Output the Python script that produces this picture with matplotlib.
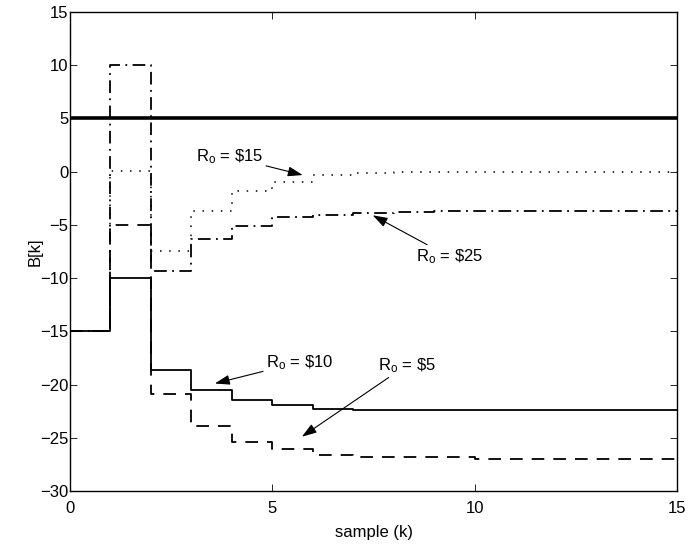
import numpy as np
import matplotlib.pyplot as plt

plt.rcParams['font.family'] = ['Liberation Sans', 'DejaVu Sans']
plt.rcParams['mathtext.fontset'] = 'custom'
plt.rcParams['mathtext.rm'] = 'Liberation Sans'
plt.rcParams['mathtext.it'] = 'Liberation Sans'

# samples k = 0..15
k = np.arange(16)
b_r10 = [-15, -10, -18.65, -20.5, -21.45, -21.95, -22.25, -22.37, -22.37, -22.37,
         -22.37, -22.37, -22.37, -22.37, -22.37, -22.37]
b_r5 = [-15, -5, -20.9, -23.9, -25.4, -26.1, -26.6, -26.85, -26.85, -26.85,
        -27.0, -27.0, -27.0, -27.0, -27.0, -27.0]
b_r15 = [-15, 0.1, -7.5, -3.65, -1.85, -0.95, -0.35, -0.1, -0.05, 0.0,
         0.0, 0.0, 0.0, 0.0, 0.0, 0.0]
b_r25 = [-15, 10, -9.3, -6.35, -5.1, -4.3, -4.1, -3.85, -3.75, -3.72,
         -3.7, -3.7, -3.7, -3.7, -3.7, -3.7]
bound = 5

fig = plt.figure(figsize=(6.89, 5.44), dpi=100)
ax = fig.add_axes([0.1016, 0.0974, 0.881, 0.8806])

ax.plot([0, 15], [bound, bound], color='k', lw=2.6)
ax.plot(k, b_r10, color='k', lw=1.3, drawstyle='steps-post')
ax.plot(k, b_r5, color='k', lw=1.3, drawstyle='steps-post', dashes=(7, 5))
ax.plot(k, b_r15, color='k', lw=1.1, drawstyle='steps-post', dashes=(1, 5))
ax.plot(k, b_r25, color='k', lw=1.3, drawstyle='steps-post', dashes=(7, 3, 1, 3))

arrow = dict(arrowstyle='-|>,head_length=0.45,head_width=0.15', color='k',
             lw=0.8, mutation_scale=20, shrinkA=0, shrinkB=0)
fs = 12
ax.annotate(r'R$_\mathrm{o}$ = \$15', xy=(5.75, -0.32), xytext=(3.12, 1.4),
            fontsize=fs, va='center', ha='left', arrowprops=arrow)
ax.annotate(r'R$_\mathrm{o}$ = \$25', xy=(7.48, -4.1), xytext=(8.55, -8.0),
            fontsize=fs, va='center', ha='left', arrowprops=arrow)
ax.annotate(r'R$_\mathrm{o}$ = \$10', xy=(3.58, -19.9), xytext=(4.84, -17.9),
            fontsize=fs, va='center', ha='left', arrowprops=arrow)
ax.annotate(r'R$_\mathrm{o}$ = \$5', xy=(5.73, -24.9), xytext=(7.6, -18.2),
            fontsize=fs, va='center', ha='left', arrowprops=arrow)

ax.set_xlim(0, 15)
ax.set_ylim(-30, 15)
ax.set_xticks([0, 5, 10, 15])
ax.set_yticks(np.arange(-30, 16, 5))
ax.tick_params(direction='in', top=True, right=True, labelsize=12, length=5,
               width=0.6)
ax.tick_params(axis='x', pad=7)
ax.tick_params(axis='y', pad=1)
for s in ax.spines.values():
    s.set_linewidth(1.0)
ax.set_xlabel('sample (k)', fontsize=12)
ax.set_ylabel('B[k]', fontsize=12)
ax.xaxis.set_label_coords(0.5, -0.071)
ax.yaxis.set_label_coords(-0.0445, 0.5)

fig.savefig('out.png', dpi=100)
